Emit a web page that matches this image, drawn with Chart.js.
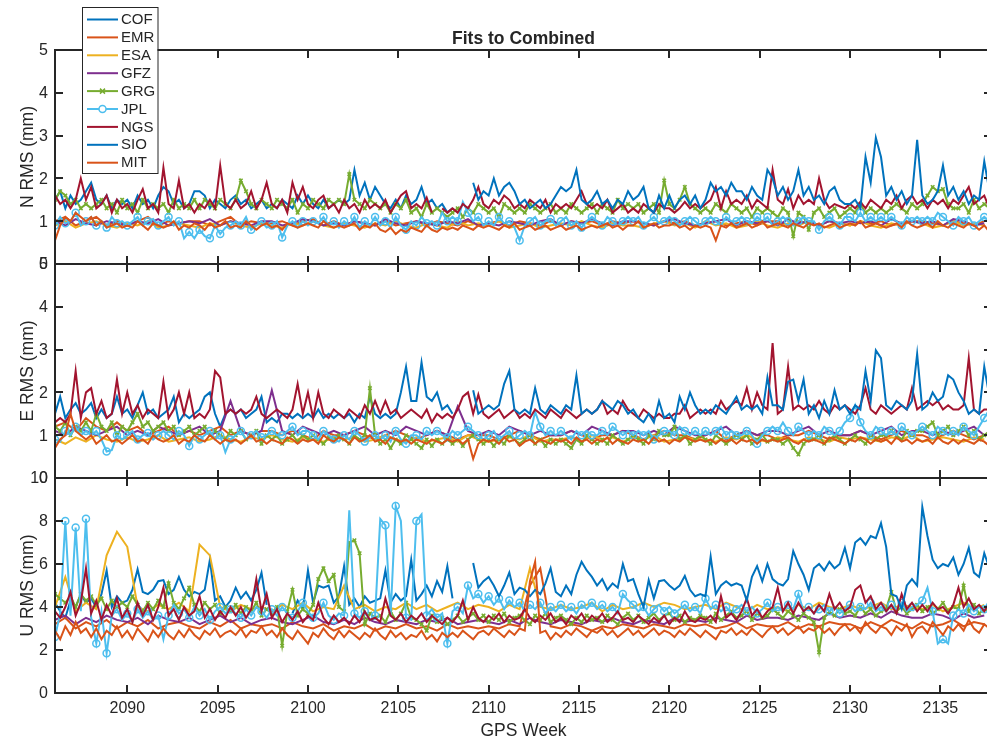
<!DOCTYPE html>
<html>
<head>
<meta charset="utf-8">
<title>Fits to Combined</title>
<script src="https://cdn.jsdelivr.net/npm/chart.js@4.4.1/dist/chart.umd.min.js"></script>
<style>
  html, body { margin: 0; padding: 0; background: #fff; overflow: hidden; }
  #wrap { position: relative; width: 987px; height: 742px; overflow: hidden; background: #fff; }
  #wrap canvas { position: absolute; left: 0; top: 0; }
</style>
</head>
<body>
<div id="wrap">
  <canvas id="panelU" width="1000" height="742"></canvas>
  <canvas id="panelE" width="1000" height="742"></canvas>
  <canvas id="panelN" width="1000" height="742"></canvas>
</div>
<script>
// ---- chart data
var startWeek = 2086;
var endWeek = 2137.857;
var centers = ['COF', 'EMR', 'ESA', 'GFZ', 'GRG', 'JPL', 'NGS', 'SIO', 'MIT'];
var colors = ['#0072BD', '#D95319', '#EDB120', '#7E2F8E', '#77AC30', '#4DBEEE', '#A2142F', '#0072BD', '#D95319'];
// first GPS week of each series and days between samples (COF stops at 2108, SIO starts 2109)
var firstWeek = [2086, 2086, 2086, 2086, 2086, 2086, 2086, 2109.143, 2086];
var sampleDays = [2, 4, 4, 4, 2, 2, 2, 2, 2];
var weekTicks = [2090, 2095, 2100, 2105, 2110, 2115, 2120, 2125, 2130, 2135];
var nTicks = [0, 1, 2, 3, 4, 5];
var eTicks = [0, 1, 2, 3, 4, 5];
var uTicks = [0, 2, 4, 6, 8, 10];

// ---- North RMS (mm)
var N_COF = [
1.5,1.7,1.3,1.6,1.4,1.5,1.7, 1.9,1.5,1.4,1.6,1.3,1.5,1.4, 1.5,1.3,1.6,1.4,1.5,1.3,1.6,
1.8,1.7,1.4,1.5,1.3,1.4,1.7, 1.7,1.6,1.3,1.5,1.4,1.3,1.5, 1.6,1.4,1.5,1.3,1.4,1.5,1.3,
1.4,1.3,1.5,1.4,1.3,1.6,1.4, 1.6,1.4,1.3,1.5,1.3,1.4,1.5, 1.4,1.5,2.2,1.6,1.9,1.5,1.8,
1.6,1.4,1.3,1.5,1.3,1.6,1.4, 1.5,1.8,1.4,1.5,1.3,1.4,1.2, 1.3];
var N_EMR = [
1.0,1.1,0.9,1.0,1.1,0.9,1.0, 0.9,1.0,1.1,0.9,1.0,0.95,1.0, 1.0,0.9,1.0,1.1,0.9,1.0,0.95,
0.95,1.0,0.9,1.0,1.05,0.9,1.0, 0.9,1.0,0.95,0.9,1.0,0.9,0.95, 1.0,0.9,1.0,0.95,0.9,1.0,0.9,
0.95,1.0,0.9,1.0,0.95,0.9,1.0, 0.9,1.0,0.95,1.0,0.9,1.0,0.95, 1.0,0.95,0.9,1.0,0.95,1.0,0.9,
0.95,1.0,0.9,0.95,1.0,0.9,1.0, 1.0,0.9,1.0,0.95,0.9,1.0,0.95, 0.9,1.0,0.95,1.0,0.9,0.95,1.0,
1.0,0.95,0.9,1.0,0.95,0.9,1.0];
var N_ESA = [
0.9,1.0,0.85,0.95,1.0,0.9,0.85, 0.95,0.9,1.0,0.85,0.9,0.95,0.9, 0.85,0.95,0.9,1.0,0.9,0.85,0.95,
0.9,0.85,0.95,0.9,1.0,0.9,0.85, 0.95,0.9,0.85,0.95,0.9,1.0,0.9, 0.85,0.95,0.9,0.85,1.0,0.9,0.95,
0.9,1.0,0.85,0.9,0.95,0.85,0.9, 0.95,0.9,1.0,0.9,0.85,0.95,0.9, 0.9,0.85,0.95,1.0,0.9,0.95,0.85,
1.0,0.9,0.95,0.85,0.9,1.0,0.9, 0.85,0.95,0.9,1.0,0.9,0.85,0.95, 0.9,1.0,0.9,0.85,0.95,0.9,1.0,
0.95,0.85,0.9,1.0,0.9,0.95,0.9];
var N_GFZ = [
1.0,0.9,1.05,0.95,0.9,1.0,0.95, 0.9,1.0,0.95,1.05,0.9,0.95,1.0, 0.95,1.05,0.9,1.0,0.95,0.9,1.0,
1.0,0.9,0.95,1.05,1.0,0.9,0.95, 0.9,1.0,0.95,0.9,1.05,0.95,0.9, 1.0,0.95,0.9,1.0,0.95,1.05,0.9,
0.95,0.9,1.0,0.95,0.9,1.0,1.05, 0.9,1.0,0.95,1.05,0.95,0.9,1.0, 1.0,0.95,0.9,1.0,1.05,0.95,0.9,
0.95,1.0,1.05,0.9,1.0,0.95,1.0, 0.9,1.05,0.95,1.0,0.9,1.0,0.95, 1.0,0.95,1.0,0.9,1.05,0.95,1.0,
0.95,1.0,0.9,1.05,1.0,0.9,0.95];
var N_GRG = [
1.5,1.7,1.6,1.4,1.5,1.3,1.4, 1.3,1.4,1.5,1.3,1.4,1.2,1.5, 1.3,1.4,1.2,1.5,1.3,1.4,1.3,
1.4,1.2,1.5,1.3,1.4,1.3,1.5, 1.3,1.5,1.4,1.3,1.5,1.4,1.3, 1.5,1.95,1.7,1.4,1.3,1.5,1.4,
1.3,1.5,1.4,1.3,1.5,1.2,1.4, 1.3,1.5,1.4,1.3,1.5,1.4,1.5, 1.4,2.1,1.5,1.4,1.3,1.5,1.4,
1.3,1.4,1.2,1.4,1.3,1.5,1.2, 1.3,1.1,1.4,1.2,1.3,1.2,1.1, 1.2,1.3,1.1,1.3,1.2,1.4,1.3,
1.2,1.3,1.1,1.4,1.3,1.2,1.3, 1.2,1.4,1.3,1.2,1.3,1.4,1.2, 1.3,1.2,1.4,1.3,1.2,1.3,1.4,
1.2,1.4,1.3,1.2,1.5,1.3,1.4, 1.3,1.4,1.2,1.3,1.4,1.2,1.95, 1.4,1.3,1.5,1.8,1.4,1.3,1.2,
1.3,1.2,1.4,1.3,1.2,1.4,1.3, 1.2,1.3,1.1,1.3,1.2,1.3,1.2, 1.1,1.3,1.2,0.65,1.2,1.1,0.8,
1.2,1.3,1.1,1.2,1.3,1.1,1.2, 1.3,1.2,1.4,1.2,1.3,1.2,1.3, 1.2,1.3,1.4,1.3,1.2,1.4,1.3,
1.4,1.6,1.8,1.7,1.75,1.4,1.3, 1.3,1.4,1.2,1.5,1.3,1.4,1.3];
var N_JPL = [
0.9,1.1,0.95,1.0,1.2,0.9,1.0, 1.1,0.9,1.0,0.85,1.1,0.95,1.0, 0.9,1.0,1.1,0.9,1.0,1.05,0.9,
1.0,1.1,0.9,1.0,0.6,0.75,0.6, 0.8,0.65,0.6,0.9,0.7,0.85,0.9, 1.0,0.9,1.1,0.8,0.9,1.0,0.85,
0.9,1.0,0.62,0.9,1.0,0.85,1.0, 0.9,1.0,0.95,1.1,0.9,1.0,0.85, 1.0,0.9,1.1,0.85,1.0,0.9,1.1,
0.9,1.0,0.85,1.1,0.9,0.8,1.0, 0.9,1.1,0.95,1.0,0.9,1.2,1.0, 1.1,1.0,1.45,1.2,1.0,1.1,0.9,
1.0,0.9,1.1,0.95,1.0,0.85,0.55, 0.9,1.0,1.1,0.9,1.0,1.05,0.9, 1.0,1.1,0.9,1.0,0.85,1.0,1.1,
1.0,0.9,1.1,1.0,0.9,1.0,1.1, 1.0,1.1,0.9,1.0,1.1,0.95,1.0, 1.1,1.0,0.9,1.0,1.1,1.0,0.9,
1.0,1.1,1.0,0.9,1.1,1.0,1.0, 1.1,1.0,0.95,1.1,1.0,1.1,0.9, 1.0,1.1,1.0,0.9,1.0,1.1,1.0,
1.0,0.8,1.0,1.1,1.0,0.9,1.1, 1.1,1.0,1.2,1.0,1.1,1.0,1.1, 1.0,1.1,1.0,0.9,1.1,1.0,1.1,
1.0,1.1,1.0,1.2,1.1,1.0,0.9, 1.1,1.0,1.1,0.9,1.0,1.1,1.0];
var N_NGS = [
1.6,1.4,1.5,1.3,1.5,2.0,1.5, 1.8,1.3,1.4,1.6,1.2,1.5,1.3, 1.4,1.2,1.5,1.75,1.3,1.4,1.2,
2.25,1.4,1.3,1.95,1.3,1.4,1.2, 1.4,1.3,1.5,1.3,2.3,1.4,1.3, 1.5,1.3,1.4,1.7,1.3,1.5,1.9,
1.4,1.3,1.5,1.2,1.9,1.5,1.8, 1.4,1.3,1.5,1.6,1.3,1.4,1.2, 1.5,1.3,1.4,1.2,1.5,1.3,1.4,
1.3,1.5,1.2,1.4,1.6,1.7,1.3, 1.4,1.3,1.55,1.2,null,1.3,1.2, 1.3,1.2,1.4,1.3,1.5,1.8,1.4,
1.3,1.5,1.4,1.6,1.5,1.3,1.4, 1.3,1.5,1.4,1.3,1.5,1.2,1.4, 1.3,1.4,1.3,1.5,1.7,1.4,1.3,
1.4,1.3,1.5,1.2,1.3,1.4,1.2, 1.3,1.2,1.4,1.3,1.2,1.4,1.3, 1.3,1.2,1.3,1.45,1.3,1.4,1.3,
1.4,1.5,1.8,1.3,1.7,1.4,1.5, 1.4,1.6,1.3,1.5,1.4,1.3,2.2, 1.5,1.4,1.75,1.3,1.6,1.4,1.5,
1.4,2.0,1.5,1.3,1.4,1.35,1.3, 1.4,1.3,1.45,1.3,1.5,1.4,1.3, 1.5,1.4,1.6,1.3,1.5,1.6,1.4,
1.5,1.3,1.5,1.4,1.5,1.3,1.5, 1.4,1.6,1.8,1.4,1.5,1.6,1.3];
var N_SIO = [
1.9,1.5,1.7,
1.6,2.0,1.6,1.8,1.9,1.7,1.4, 1.5,1.3,1.4,1.5,1.3,1.4,1.6, 1.8,1.7,1.8,2.2,1.5,1.4,1.5,
1.7,1.4,1.5,1.3,1.5,1.4,1.7, 1.5,1.6,1.8,1.3,1.2,1.6,1.3, 1.6,1.3,1.5,1.6,1.4,1.6,1.3,
1.5,1.9,1.7,1.8,1.6,1.9,1.7, 1.7,1.5,1.8,1.6,1.5,2.2,2.0, 1.6,1.8,1.5,1.7,2.2,1.6,1.8,
1.5,1.6,1.4,1.7,1.8,1.5,1.4, 1.4,1.5,1.3,2.5,1.9,2.95,2.5, 1.6,1.8,1.5,1.7,1.4,1.6,2.9,
1.6,1.4,1.5,1.7,2.3,1.6,1.8, 1.5,1.7,1.4,1.6,1.5,2.4,1.7];
var N_MIT = [
0.55,0.9,1.1,1.0,1.2,1.1,1.0, 1.1,0.9,1.0,0.85,0.9,0.95,0.85, 0.9,0.85,1.0,0.9,0.8,0.95,0.9,
0.85,0.9,1.0,0.8,0.9,0.85,0.95, 0.9,0.8,0.95,0.85,0.9,1.0,0.85, 0.9,0.85,1.0,0.9,0.8,0.9,0.95,
0.85,0.9,0.8,0.95,0.9,0.85,0.9, 0.95,0.9,0.85,1.0,0.9,0.85,0.9, 0.85,0.9,0.95,0.8,0.9,0.85,0.95,
0.8,0.75,0.85,0.7,0.8,0.75,0.85, 0.8,0.75,0.9,0.8,0.75,0.85,0.8, 0.85,0.8,0.9,0.85,0.8,0.9,0.85,
0.9,0.85,0.8,0.9,0.85,0.95,0.8, 0.85,0.9,0.8,0.85,0.9,0.8,0.85, 0.9,0.8,0.85,0.9,0.8,0.85,0.9,
0.85,0.9,0.95,0.85,0.9,0.8,0.9, 0.9,1.0,0.85,0.9,0.95,0.85,0.9, 0.9,0.95,0.85,0.9,0.8,0.9,0.85,
0.9,0.85,0.55,0.9,0.85,0.95,0.85, 0.9,0.95,0.85,0.9,1.0,0.85,0.9, 0.95,0.9,0.85,0.95,0.9,0.85,0.95,
0.9,0.95,0.85,0.9,0.95,0.85,0.9, 0.95,0.9,1.0,0.85,0.9,0.95,0.9, 0.85,0.9,0.95,0.85,1.0,0.9,0.85,
0.9,0.95,0.85,1.0,0.9,0.85,0.95, 0.9,0.85,0.95,0.9,0.8,0.9,0.75];

// ---- East RMS (mm)
var E_COF = [
1.5,1.9,1.4,1.6,1.75,1.5,1.6, 1.75,1.4,1.6,1.4,1.5,1.9,1.5, 1.6,1.4,1.7,2.0,1.5,1.6,1.4,
1.5,1.6,1.9,1.3,1.5,1.4,1.5, 1.6,1.9,2.0,1.5,1.2,1.5,1.6, 1.5,1.6,1.4,1.5,1.6,1.9,1.3,
1.4,1.3,1.5,1.5,1.4,1.5,1.4, 1.5,1.4,1.6,1.4,1.5,1.4,1.5, 1.4,1.5,1.3,1.5,1.4,1.9,1.5,
1.4,1.5,1.4,1.5,2.0,2.6,1.8, 1.8,2.7,1.9,1.8,2.0,1.6,1.7, 1.5];
var E_EMR = [
1.2,1.3,1.1,1.4,1.2,1.1,1.3, 1.1,1.2,1.0,1.1,1.2,1.0,1.1, 1.0,1.1,1.2,1.0,1.1,1.0,1.1,
1.1,1.0,1.1,1.0,0.9,1.1,1.0, 1.0,1.1,1.0,0.9,1.0,1.1,1.0, 0.9,1.0,1.1,1.0,0.9,1.0,1.0,
1.0,0.9,1.0,1.1,1.0,0.9,1.0, 1.0,1.1,1.0,0.9,1.0,1.0,1.1, 1.0,0.9,1.0,1.1,1.0,1.0,0.9,
1.0,1.1,0.9,1.0,1.1,1.0,1.0, 0.9,1.0,1.0,1.1,1.0,0.9,1.0, 1.0,1.1,1.0,0.9,1.0,1.1,1.0,
1.0,0.9,1.0,1.1,1.0,0.9,1.0];
var E_ESA = [
0.9,0.8,0.95,0.85,1.0,0.9,0.85, 0.95,0.85,0.9,1.0,0.85,0.9,0.95, 0.85,0.9,1.0,0.9,0.85,0.95,0.9,
1.0,0.9,0.85,0.95,0.9,0.85,0.95, 0.9,0.95,0.85,0.9,1.0,0.9,0.85, 0.95,0.85,0.9,0.95,0.85,1.0,0.9,
0.85,0.9,0.95,0.9,1.0,0.85,0.9, 0.9,0.95,0.85,1.0,0.9,0.95,0.85, 0.95,0.9,1.0,0.85,0.9,0.95,0.9,
0.9,0.85,0.95,0.9,1.0,0.9,0.85, 0.95,0.9,0.85,0.95,0.9,0.85,0.95, 0.9,0.95,0.9,0.85,0.95,0.9,1.0,
0.85,0.9,0.95,0.9,0.85,0.95,0.9];
var E_GFZ = [
1.1,1.0,1.2,1.1,1.0,1.1,1.2, 1.0,1.1,1.0,1.2,1.1,1.0,1.1, 1.2,1.0,1.1,1.8,1.1,1.0,1.1,
2.05,1.1,1.0,1.2,1.1,1.0,1.1, 1.0,1.1,1.2,1.0,1.1,1.0,1.2, 1.1,1.0,1.1,1.0,1.67,1.1,1.0,
1.1,1.0,1.2,1.1,1.0,1.1,1.0, 1.0,1.1,1.0,1.2,1.1,1.0,1.1, 1.1,1.0,1.1,1.0,1.2,1.1,1.0,
1.0,1.1,1.2,1.0,1.1,1.0,1.1, 1.1,1.0,1.1,1.2,1.0,1.1,1.0, 1.0,1.1,1.0,1.1,1.2,1.0,1.1,
1.1,1.0,1.1,1.0,1.1,1.2,1.0];
var E_GRG = [
1.2,1.1,1.3,1.0,1.2,1.1,1.3, 1.1,1.5,1.2,1.1,1.3,1.0,1.2, 1.1,1.3,1.5,1.2,1.3,1.1,1.2,
1.3,1.1,1.2,1.0,1.1,1.2,1.0, 1.1,1.2,1.0,1.1,1.0,0.9,1.1, 1.0,1.1,0.9,1.0,1.1,0.8,1.0,
0.9,1.0,0.8,0.9,1.0,0.85,1.0, 0.9,1.0,0.9,0.8,0.95,0.9,1.0, 0.9,0.8,1.0,0.9,1.0,2.1,1.0,
0.8,0.9,0.7,0.9,0.8,1.0,0.9, 0.8,0.7,0.9,0.75,0.9,0.8,0.9, 0.8,0.9,0.75,0.9,1.0,0.9,0.8,
0.9,0.75,0.9,0.8,1.0,0.9,0.8, 0.9,1.0,0.8,0.9,0.75,0.9,0.8, 0.9,0.8,0.7,0.9,0.8,1.0,0.9,
0.8,0.9,0.8,1.0,0.9,0.8,0.9, 1.0,0.9,0.8,1.0,0.9,1.1,1.0, 1.0,1.2,0.9,1.0,0.8,0.9,1.0,
0.9,0.8,1.0,0.9,0.8,0.9,1.0, 0.9,1.0,0.8,0.9,1.0,0.85,0.9, 0.9,0.8,0.9,0.7,0.55,0.8,0.9,
0.9,1.0,0.8,0.9,1.0,0.9,0.8, 0.9,1.0,0.9,0.8,1.0,0.9,1.0, 1.0,1.1,1.0,0.9,1.1,1.0,1.1,
1.1,1.2,1.3,1.0,1.1,1.2,1.0, 1.1,1.2,1.0,1.1,0.9,1.0,1.1];
var E_JPL = [
0.9,0.85,1.1,1.0,1.2,1.0,1.1, 1.0,1.1,0.9,0.62,0.65,1.0,0.9, 1.0,1.1,0.9,1.0,1.05,0.9,1.0,
1.1,1.0,0.9,1.1,1.0,0.75,1.0, 0.9,1.0,1.1,0.9,1.0,0.6,0.9, 1.0,1.1,0.9,1.0,1.1,0.95,1.0,
1.1,1.0,1.0,1.1,1.2,1.0,1.1, 1.1,1.0,0.9,1.1,1.0,0.9,0.85, 1.0,0.9,1.1,1.0,0.85,0.95,1.0,
0.9,1.0,0.85,1.1,0.9,0.8,1.0, 1.0,0.9,1.1,1.0,1.1,1.0,0.95, 1.1,1.0,1.1,1.2,1.1,1.0,0.9,
1.0,1.1,0.9,1.0,1.1,0.9,1.0, 1.1,1.0,1.55,1.2,1.0,1.1,1.0, 1.1,1.0,0.9,1.1,1.0,1.1,1.0,
1.0,1.1,1.0,1.2,1.1,1.0,1.1, 1.0,1.1,1.0,1.1,0.9,1.0,1.1, 1.1,1.0,1.2,1.1,1.0,1.1,1.0,
1.1,1.0,1.1,1.2,1.0,1.1,1.0, 1.0,1.1,1.0,0.8,1.0,1.1,1.2, 1.1,1.3,1.1,1.0,1.2,1.1,1.0,
1.1,1.0,1.2,1.1,1.0,1.1,1.3, 1.4,1.7,1.3,1.1,1.0,1.2,1.1, 1.0,1.1,1.0,1.2,1.1,1.0,1.1,
1.2,1.1,1.0,1.2,1.1,1.0,1.1, 1.0,1.2,1.1,1.0,1.2,1.4,1.6];
var E_NGS = [
1.3,1.4,1.3,1.5,2.5,1.4,2.0, 2.1,1.5,1.8,1.4,1.5,2.3,1.5, 2.0,1.5,1.7,1.4,1.6,1.5,1.4,
2.25,1.4,1.6,2.0,1.5,2.0,1.4, 1.5,1.4,1.6,2.5,2.35,1.5,1.6, 1.5,1.6,1.5,1.6,1.9,1.5,1.4,
1.5,1.6,1.5,1.4,1.6,2.2,1.5, 2.0,1.4,2.0,1.5,1.4,1.6,1.5, 1.4,1.6,1.5,1.4,1.7,1.5,1.8,
1.5,1.8,1.5,1.6,1.4,1.5,1.6, 1.5,1.4,1.6,1.3,1.5,1.4,1.5, 1.4,1.6,1.9,2.0,1.5,1.95,1.5,
1.4,1.5,1.6,1.4,1.5,1.6,1.4, 1.5,1.4,1.6,1.5,1.4,1.6,1.5, 1.4,1.6,1.5,1.4,1.5,1.6,1.5,
1.6,1.8,1.5,1.6,1.5,1.8,1.6, 1.5,1.4,1.6,1.5,1.4,1.5,1.4, 1.4,1.5,1.5,1.7,1.4,1.5,1.6,
1.5,1.6,1.5,1.8,1.6,1.7,1.8, 1.7,2.1,1.6,2.0,1.7,1.6,3.15, 1.5,1.6,2.6,1.6,1.7,1.6,1.7,
1.6,1.8,1.6,1.5,1.7,1.6,1.7, 1.6,1.5,1.7,2.1,1.6,1.5,1.7, 1.6,1.5,1.6,1.7,1.6,2.1,1.6,
1.7,1.8,1.7,1.8,1.6,1.7,1.6, 1.6,1.7,2.8,1.6,1.5,1.6,1.6];
var E_SIO = [
2.05,1.5,1.6,
1.7,1.6,1.7,2.2,2.5,1.6,1.5, 1.6,1.5,2.1,1.6,1.5,1.7,1.6, 1.5,1.7,1.6,2.4,1.5,1.6,1.5,
1.6,1.8,1.7,1.6,1.8,1.7,1.5, 1.6,1.4,1.3,1.5,1.3,1.8,1.4, 1.5,1.3,1.9,1.6,2.0,1.7,1.5,
1.6,1.5,1.7,1.6,1.5,1.7,1.9, 1.6,1.7,1.6,1.7,1.5,2.35,1.7, 1.7,1.6,2.25,2.3,1.8,2.3,1.5,
1.7,1.4,1.8,1.5,2.05,1.6,1.7, 1.5,1.7,1.6,2.5,1.8,2.98,2.8, 1.7,1.6,1.8,1.7,1.6,1.8,2.9,
1.6,1.7,2.0,1.8,1.9,2.4,2.3, 2.0,1.8,1.5,1.6,1.5,2.6,1.9];
var E_MIT = [
0.7,0.9,1.0,1.5,1.1,1.0,0.9, 1.0,0.8,0.9,1.0,0.85,0.9,0.8, 0.9,1.0,0.85,0.9,0.8,1.0,0.9,
0.85,0.9,1.0,0.8,0.9,0.85,1.0, 0.9,0.85,1.0,0.9,0.8,0.9,0.85, 0.9,0.8,0.9,1.0,0.85,0.9,0.8,
0.9,0.85,0.8,0.95,0.9,0.8,0.9, 0.85,0.9,0.8,1.0,0.9,0.85,0.95, 0.9,0.8,0.95,0.85,0.9,1.0,0.85,
0.9,0.8,0.95,0.9,0.85,0.9,0.8, 0.9,0.85,0.8,0.9,0.85,0.8,0.9, 0.85,0.9,0.8,0.9,0.45,0.8,0.9,
0.85,0.9,0.8,0.95,0.85,0.9,0.75, 0.85,0.9,0.8,0.9,0.85,0.8,0.9, 0.85,0.9,0.8,0.95,0.85,0.9,0.8,
0.9,0.85,0.95,0.8,0.9,0.85,0.8, 0.9,0.85,0.9,0.8,0.95,0.85,0.9, 0.8,0.9,0.85,0.95,0.9,0.85,0.9,
0.85,0.9,0.8,0.9,0.85,0.9,0.8, 0.9,0.85,0.9,0.8,0.9,0.85,0.9, 0.85,0.9,0.95,0.85,0.8,0.9,0.85,
0.9,0.85,0.8,0.95,0.9,0.85,0.8, 0.9,0.85,0.95,0.9,0.8,0.9,0.85, 0.9,0.8,0.95,0.85,0.9,0.8,0.9,
0.85,0.9,0.8,0.95,0.85,0.8,0.9, 0.8,0.9,0.85,0.8,0.9,0.85,0.75];

// ---- Up RMS (mm)
var U_COF = [
4.2,3.8,3.5,4.3,4.0,4.6,4.2, 4.4,4.0,4.6,5.7,4.0,4.5,4.2, 4.3,4.8,5.75,4.7,4.6,4.8,5.2,
5.25,4.6,4.8,5.4,4.8,4.5,4.7, 4.6,4.8,6.2,4.3,4.5,4.0,4.3, 4.9,4.4,4.7,4.3,4.8,5.6,4.1,
null,null,null,null,3.7,4.3,3.9, 5.7,4.2,5.0,4.9,5.0,4.2,4.5, 5.9,4.1,4.4,4.0,4.5,4.2,4.3,
4.4,5.7,4.2,4.6,4.3,4.5,6.2, 4.3,4.6,5.0,4.5,5.2,4.7,5.9, 4.4];
var U_EMR = [
3.2,3.5,3.0,3.3,3.1,3.4,3.0, 3.3,3.1,3.4,3.0,3.2,3.3,3.1, 3.0,3.3,3.1,3.4,3.0,3.2,3.1,
3.2,3.0,3.3,3.1,3.0,3.2,2.9, 3.1,3.0,3.2,2.9,3.1,3.0,3.2, 3.0,3.1,2.9,3.2,3.0,3.1,3.0,
3.1,3.0,3.2,3.1,5.0,5.8,3.1, 3.0,3.2,3.1,2.9,3.1,3.0,3.2, 3.1,3.0,3.2,3.1,3.0,3.2,3.1,
3.2,3.0,3.1,3.3,3.0,3.2,3.1, 3.1,3.3,3.0,3.2,3.1,3.3,3.2, 3.2,3.0,3.3,3.1,3.4,3.2,3.0,
3.3,3.1,3.2,3.4,3.1,3.3,3.2];
var U_ESA = [
4.0,5.4,3.8,4.2,3.9,6.4,7.5, 6.8,4.0,3.8,4.1,3.9,4.2,3.8, 6.9,6.4,4.0,3.8,4.1,3.9,4.0,
3.8,4.1,3.9,4.2,3.8,4.0,3.9, 5.0,3.9,4.1,3.8,4.0,3.9,4.2, 3.9,4.1,3.8,4.0,4.2,3.9,4.1,
4.0,3.8,4.1,3.9,5.8,4.0,3.9, 4.1,3.9,4.0,4.2,3.8,4.1,3.9, 4.0,4.2,4.0,4.2,4.1,3.9,4.0,
4.1,3.9,4.2,4.0,3.8,4.1,3.9, 4.0,3.8,4.1,3.9,4.2,4.0,3.9, 4.1,3.9,4.0,4.2,3.9,4.1,4.0,
3.9,4.1,3.8,4.0,4.2,3.9,4.1];
var U_GFZ = [
3.4,3.6,3.2,3.5,3.3,3.6,3.4, 3.3,3.5,3.2,3.6,3.4,3.3,3.5, 3.2,3.4,3.6,3.3,3.5,3.2,3.4,
3.5,3.3,3.2,3.4,3.6,3.3,3.2, 3.4,3.2,3.5,3.3,3.2,3.4,3.3, 3.2,3.4,3.3,3.5,3.2,3.3,3.4,
3.3,3.2,3.4,3.2,3.5,3.3,3.2, 3.4,3.3,3.2,3.4,3.3,3.5,3.3, 3.2,3.4,3.3,3.2,3.5,3.3,3.4,
3.3,3.5,3.4,3.3,3.6,3.4,3.5, 3.5,3.4,3.6,3.5,3.4,3.7,3.5, 3.6,3.5,3.7,3.5,3.8,3.6,3.5,
3.5,3.7,3.6,3.4,3.7,3.5,3.6];
var U_GRG = [
4.6,4.4,4.2,4.5,4.0,4.6,4.3, 4.5,4.1,4.4,3.9,4.3,4.0,4.2, 4.0,4.5,4.1,3.8,4.2,3.9,4.3,
4.0,5.1,4.2,3.9,4.4,4.9,4.1, 3.8,4.2,3.9,4.1,3.7,4.0,3.8, 4.1,3.7,4.0,3.8,4.2,3.6,3.9,
3.7,4.0,2.2,3.8,4.8,3.6,3.9, 3.7,4.1,5.3,5.8,5.2,5.5,4.0, 3.8,7.0,7.1,6.5,3.2,3.7,3.5,
3.6,3.3,3.8,3.4,3.7,4.2,3.5, 3.4,3.2,2.9,3.6,3.3,3.5,3.2, 3.4,3.6,3.3,3.5,3.7,3.4,3.6,
3.3,3.6,3.4,3.7,3.3,3.5,3.6, 3.4,3.2,3.6,3.4,3.7,3.3,3.5, 3.6,3.4,3.2,3.5,3.3,3.6,3.4,
3.5,3.3,3.6,3.4,3.2,3.5,3.7, 3.4,3.6,3.3,3.5,3.7,3.4,3.6, 3.7,3.4,3.6,3.3,3.5,3.4,3.6,
3.5,3.3,3.7,3.4,3.6,3.8,3.5, 3.6,3.8,3.4,3.7,3.5,3.6,3.9, 3.7,3.5,3.8,3.6,3.4,3.7,3.5,
3.3,1.9,3.5,3.8,3.6,3.9,3.7, 3.8,3.6,4.0,3.7,3.9,3.6,3.8, 3.9,4.7,3.8,4.0,3.7,3.9,4.1,
3.8,4.0,3.7,3.9,4.2,3.8,4.0, 3.9,5.0,3.8,4.1,3.7,3.9,3.8];
var U_JPL = [
2.6,3.7,8.0,3.6,7.7,3.8,8.1, 3.5,2.3,3.8,1.85,3.6,3.9,3.4, 3.7,3.3,3.9,3.5,3.8,3.4,3.6,
2.5,3.6,4.1,3.7,3.9,3.5,4.0, 3.6,3.9,3.4,3.8,4.0,3.7,3.9, 3.7,3.5,3.9,3.6,4.0,3.8,3.5,
3.9,3.6,4.0,3.7,3.5,3.8,4.2, 3.8,3.5,3.7,4.2,3.6,3.4,3.7, 3.6,8.5,3.7,3.5,3.8,3.4,3.6,
8.1,7.8,3.6,8.7,8.0,3.5,3.4, 8.0,8.3,3.6,3.9,3.5,3.7,2.3, 3.8,4.0,3.7,5.0,4.4,4.6,4.2,
4.5,4.1,4.4,3.9,4.3,4.0,4.2, 3.8,4.1,3.9,4.2,3.7,4.0,3.8, 4.1,3.8,4.0,3.7,4.1,3.9,4.2,
3.9,4.1,3.8,4.0,3.7,4.6,4.3, 4.1,3.8,4.0,3.6,3.9,4.1,3.8, 4.0,3.7,3.9,4.1,3.8,4.0,3.7,
4.4,3.9,4.1,3.8,4.0,3.7,3.9, 4.1,3.8,4.0,3.7,3.9,4.2,3.8, 4.0,3.8,4.1,3.9,4.6,3.8,4.0,
3.7,3.9,4.1,3.8,4.0,3.7,3.9, 4.1,3.8,4.0,3.9,4.2,3.8,4.0, 3.8,4.1,3.9,4.2,3.8,4.0,4.1,
4.3,4.9,3.8,2.3,2.5,2.3,3.6, 3.9,3.7,4.1,3.8,4.0,3.9,4.3];
var U_NGS = [
3.8,3.5,4.0,4.7,3.6,4.2,5.8, 3.7,4.3,3.4,4.1,3.6,4.4,3.5, 3.9,3.3,4.2,3.6,4.1,3.4,4.0,
4.9,3.6,3.9,3.4,4.0,3.6,3.8, 4.5,3.5,3.9,3.4,3.8,3.5,4.0, 3.6,4.0,3.5,3.9,5.3,3.8,4.6,
3.5,3.9,3.3,3.7,3.4,3.8,3.3, 3.6,3.4,4.2,3.5,3.2,3.6,3.3, 3.5,3.2,3.6,3.3,3.8,3.4,3.5,
3.3,4.4,3.6,3.4,3.7,3.3,3.6, 3.4,3.7,3.3,3.6,3.4,3.2,3.5, 3.3,3.6,4.3,3.4,4.0,3.5,3.3,
3.6,3.4,3.7,3.3,3.6,3.4,3.5, 3.9,3.5,3.3,3.6,3.4,3.7,3.3, 3.5,3.2,3.6,3.4,3.7,3.3,3.6,
3.4,3.7,3.3,3.5,3.8,3.4,3.5, 3.3,3.6,3.4,3.2,3.5,3.3,3.6, 3.2,3.5,3.3,3.8,3.4,3.3,3.5,
3.4,3.6,3.3,4.5,3.5,3.7,3.4, 3.8,4.4,3.6,3.9,3.5,3.8,4.0, 4.9,3.8,4.2,3.7,4.2,3.8,4.0,
3.7,4.1,3.8,4.6,3.9,4.2,3.8, 4.0,4.8,5.0,4.2,4.5,3.9,4.2, 3.8,4.1,3.7,4.6,3.9,4.2,3.8,
4.1,3.8,4.2,3.9,4.0,3.7,4.1, 4.9,4.0,4.4,3.9,4.1,3.8,4.2];
var U_SIO = [
6.05,4.9,5.2,
5.4,5.0,4.5,5.0,5.6,4.6,4.9, 4.8,4.5,4.8,4.6,5.1,5.8,4.7, 4.5,5.0,4.6,5.5,6.1,5.7,5.4,
5.0,5.3,4.8,5.1,4.9,6.0,5.2, 5.3,4.6,4.0,5.25,4.4,5.2,5.25, 5.0,4.8,5.0,5.45,4.8,4.5,4.6,
4.5,6.35,4.6,5.0,5.2,5.0,5.1, 5.0,4.3,5.4,5.9,5.2,6.0,5.3, 5.1,5.0,5.3,6.6,6.0,5.5,4.8,
5.8,6.0,5.7,6.1,5.8,6.0,6.75, 5.8,7.0,7.2,6.9,7.3,7.2,7.9, 6.8,4.6,4.5,3.9,5.0,5.3,5.0,
8.65,7.3,6.2,5.8,6.0,5.9,6.3, 5.5,6.0,6.75,5.6,5.4,6.5,5.8];
var U_MIT = [
2.9,2.5,3.1,2.7,3.3,2.8,3.0, 2.6,3.0,2.5,2.9,2.7,3.1,2.6, 2.9,2.5,3.0,2.7,2.4,2.9,2.6,
3.0,2.7,2.5,2.9,2.6,3.0,2.7, 2.5,2.9,2.7,3.0,2.6,2.8,2.9, 2.7,3.0,2.6,2.9,2.8,3.1,2.7,
2.9,2.6,3.0,2.7,2.5,2.9,2.6, 2.3,2.8,2.6,3.0,2.7,2.5,2.9, 2.6,2.9,2.7,2.5,2.8,2.6,3.0,
2.7,2.5,2.9,2.6,2.8,2.5,2.7, 2.6,2.9,2.5,2.7,2.4,2.8,2.6, 2.8,2.6,2.9,2.7,2.5,2.8,2.9,
2.7,3.0,2.8,2.6,2.9,2.7,3.0, 2.9,5.2,6.1,2.8,2.9,2.5,2.8, 2.6,2.9,2.7,3.0,2.8,2.6,2.9,
2.8,3.0,2.7,2.9,2.6,2.8,3.0, 2.7,2.9,2.6,2.8,3.0,2.7,2.9, 2.8,2.6,2.9,2.7,3.0,2.8,2.6,
2.9,2.7,2.5,2.9,2.8,3.0,2.7, 2.9,2.7,3.0,2.8,2.6,2.9,3.1, 2.8,3.0,2.7,2.9,3.1,2.8,3.0,
2.9,3.1,2.8,3.0,2.7,3.0,3.2, 2.9,3.1,2.8,3.3,3.0,2.8,3.1, 3.0,2.7,3.1,2.9,3.2,2.6,3.0,
3.1,2.8,3.3,3.0,2.7,3.1,2.9, 3.2,2.9,3.4,3.0,2.8,3.2,3.0];

// ---- drawing
var AXIS = '#262626';
var FONT = "'Liberation Sans', Arial, Helvetica, sans-serif";
var TICK = 8;

function toPoints(vals, first, days) {
  return vals.map(function (v, i) { return { x: first + i * days / 7, y: v }; });
}

function buildDatasets(list) {
  return list.map(function (vals, k) {
    var name = centers[k];
    var ds = {
      label: name,
      data: toPoints(vals, firstWeek[k], sampleDays[k]),
      borderColor: colors[k],
      backgroundColor: colors[k],
      borderWidth: 2,
      tension: 0,
      spanGaps: false,
      pointRadius: 0,
      order: 8 - k
    };
    if (name === 'GRG') {
      ds.pointStyle = 'crossRot';
      ds.pointRadius = 2.5;
      ds.pointBorderWidth = 1.5;
      ds.pointBorderColor = colors[k];
    }
    if (name === 'JPL') {
      ds.pointStyle = 'circle';
      ds.pointRadius = function (c) { return c.dataIndex % 2 ? 0 : 3.5; };
      ds.pointBorderWidth = 1.5;
      ds.pointBorderColor = colors[k];
      ds.pointBackgroundColor = 'rgba(0,0,0,0)';
    }
    return ds;
  });
}

function drawLegend(ctx) {
  var x0 = 82, y0 = 7, w = 75.5, h = 166;
  ctx.save();
  ctx.fillStyle = '#fff';
  ctx.fillRect(x0, y0, w, h);
  ctx.strokeStyle = AXIS;
  ctx.lineWidth = 1;
  ctx.strokeRect(x0 + 0.5, y0 + 0.5, w, h);
  ctx.font = '15px ' + FONT;
  ctx.textAlign = 'left';
  ctx.textBaseline = 'middle';
  centers.forEach(function (name, k) {
    var y = 19.5 + k * 17.9;
    ctx.strokeStyle = colors[k];
    ctx.lineWidth = 2;
    ctx.beginPath();
    ctx.moveTo(87, y); ctx.lineTo(118, y);
    ctx.stroke();
    if (name === 'GRG') {
      ctx.lineWidth = 1.5;
      ctx.beginPath();
      ctx.moveTo(100, y - 2.5); ctx.lineTo(105, y + 2.5);
      ctx.moveTo(100, y + 2.5); ctx.lineTo(105, y - 2.5);
      ctx.stroke();
    }
    if (name === 'JPL') {
      ctx.lineWidth = 1.5;
      ctx.fillStyle = '#fff';
      ctx.beginPath();
      ctx.arc(102.5, y, 3.5, 0, Math.PI * 2);
      ctx.fill();
      ctx.stroke();
    }
    ctx.fillStyle = AXIS;
    ctx.fillText(name, 121, y + 0.5);
  });
  ctx.restore();
}

function framePlugin(cfg) {
  return {
    id: 'frame',
    afterDraw: function (chart) {
      var ctx = chart.ctx, a = chart.chartArea;
      var xs = chart.scales.x, ys = chart.scales.y;
      ctx.save();
      ctx.strokeStyle = AXIS;
      ctx.lineWidth = 2;
      ctx.strokeRect(a.left, a.top, a.right - a.left, a.bottom - a.top);
      ctx.beginPath();
      weekTicks.forEach(function (w) {
        var px = Math.round(xs.getPixelForValue(w));
        ctx.moveTo(px, a.top); ctx.lineTo(px, a.top + TICK);
        ctx.moveTo(px, a.bottom); ctx.lineTo(px, a.bottom - TICK);
      });
      cfg.yTicks.forEach(function (v) {
        var py = Math.round(ys.getPixelForValue(v));
        ctx.moveTo(a.left, py); ctx.lineTo(a.left + TICK, py);
        ctx.moveTo(a.right, py); ctx.lineTo(a.right - TICK, py);
      });
      ctx.stroke();

      ctx.fillStyle = AXIS;
      ctx.font = '16px ' + FONT;
      ctx.textAlign = 'right';
      ctx.textBaseline = 'middle';
      cfg.yTicks.forEach(function (v) {
        ctx.fillText(String(v), a.left - 7, ys.getPixelForValue(v) + 1);
      });

      ctx.save();
      ctx.translate(28, (a.top + a.bottom) / 2);
      ctx.rotate(-Math.PI / 2);
      ctx.textAlign = 'center';
      ctx.font = '17.5px ' + FONT;
      ctx.fillText(cfg.yTitle, 0, 0);
      ctx.restore();

      if (cfg.xLabels) {
        ctx.font = '16px ' + FONT;
        ctx.textAlign = 'center';
        weekTicks.forEach(function (w) {
          ctx.fillText(String(w), xs.getPixelForValue(w), a.bottom + 16);
        });
        ctx.font = '17.5px ' + FONT;
        ctx.fillText('GPS Week', (a.left + a.right) / 2, 731);
      }
      if (cfg.title) {
        ctx.font = 'bold 17.5px ' + FONT;
        ctx.textAlign = 'center';
        ctx.fillText(cfg.title, (a.left + a.right) / 2, 39);
      }
      ctx.restore();
      if (cfg.legend) drawLegend(ctx);
    }
  };
}

function makePanel(id, list, yMax, cfg, pad) {
  return new Chart(document.getElementById(id), {
    type: 'line',
    data: { datasets: buildDatasets(list) },
    options: {
      responsive: false,
      animation: false,
      devicePixelRatio: 1,
      events: [],
      layout: { padding: pad },
      plugins: { legend: { display: false }, tooltip: { enabled: false }, title: { display: false } },
      scales: {
        x: { type: 'linear', min: startWeek, max: endWeek, display: false },
        y: { type: 'linear', min: 0, max: yMax, display: false }
      }
    },
    plugins: [framePlugin(cfg)]
  });
}

makePanel('panelU',
  [U_COF, U_EMR, U_ESA, U_GFZ, U_GRG, U_JPL, U_NGS, U_SIO, U_MIT], 10,
  { yTicks: uTicks, yTitle: 'U RMS (mm)', xLabels: true },
  { left: 55, right: 8, top: 478, bottom: 49 });
makePanel('panelE',
  [E_COF, E_EMR, E_ESA, E_GFZ, E_GRG, E_JPL, E_NGS, E_SIO, E_MIT], 5,
  { yTicks: eTicks, yTitle: 'E RMS (mm)' },
  { left: 55, right: 8, top: 264, bottom: 264 });
makePanel('panelN',
  [N_COF, N_EMR, N_ESA, N_GFZ, N_GRG, N_JPL, N_NGS, N_SIO, N_MIT], 5,
  { yTicks: nTicks, yTitle: 'N RMS (mm)', title: 'Fits to Combined', legend: true },
  { left: 55, right: 8, top: 50, bottom: 478 });
</script>
</body>
</html>
